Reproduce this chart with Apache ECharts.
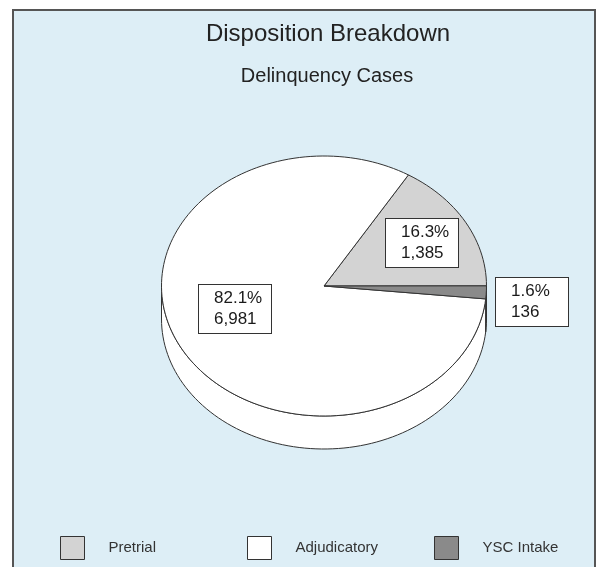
<!DOCTYPE html>
<html>
<head>
<meta charset="utf-8">
<script src="https://cdn.jsdelivr.net/npm/echarts@6/dist/echarts.min.js"></script>
<style>
html,body{margin:0;padding:0;background:#ffffff;}
#chart{width:600px;height:567px;}
</style>
</head>
<body>
<div id="chart"></div>
<script>
// chart data
var categories = ["Pretrial", "Adjudicatory", "YSC Intake"];
var caseCounts = [1385, 6981, 136];
// slices go clockwise in this order from the start angle
var sliceOrder = ["Pretrial", "YSC Intake", "Adjudicatory"];

var sliceColors = {"Pretrial": "#d3d3d3", "Adjudicatory": "#ffffff", "YSC Intake": "#8a8a8a"};
// label centre as a fraction of the radius along the mid angle (x, y)
var labelSpot = {"Pretrial": [0.69, 0.68], "Adjudicatory": [0.61, 0.39], "YSC Intake": [1.28, 2.5]};
// left edge of each legend entry
var legendLeft = [60, 247, 434];

var _pie = {cx: 324, cy: 286, rx: 162.5, ry: 130, depth: 33, startAngle: 58.7};
var _font = '"Liberation Sans", Arial, sans-serif';
var _line = "#333333";

var total = 0;
for (var i = 0; i < caseCounts.length; i++) total += caseCounts[i];

// sweep of each slice, in degrees, counter clockwise positive
var sliceAngles = {};
var a = _pie.startAngle;
for (var j = 0; j < sliceOrder.length; j++) {
	var nm = sliceOrder[j];
	var sweep = caseCounts[categories.indexOf(nm)] / total * 360;
	sliceAngles[nm] = {from: a, to: a - sweep};
	a -= sweep;
}

function pt(t, dy) {
	var r = t * Math.PI / 180;
	return [_pie.cx + _pie.rx * Math.cos(r), _pie.cy - _pie.ry * Math.sin(r) + (dy || 0)];
}

function arcPoints(a0, a1, dy) {
	var n = Math.max(2, Math.ceil(Math.abs(a0 - a1) / 2));
	var pts = [];
	for (var k = 0; k <= n; k++) pts.push(pt(a0 + (a1 - a0) * k / n, dy));
	return pts;
}

// parts of a slice that lie on the front (lower) half, where the side shows
function sidePieces(hi, lo) {
	var out = [];
	for (var k = -2; k <= 1; k++) {
		var s = Math.max(lo, -180 + 360 * k), e = Math.min(hi, 360 * k);
		if (e > s) out.push([e, s]);
	}
	return out;
}

function makeRender(name) {
	return function (params, api) {
		var value = api.value(0);
		var ang = sliceAngles[name];
		var color = sliceColors[name];
		var children = [];

		var pieces = sidePieces(ang.from, ang.to);
		for (var p = 0; p < pieces.length; p++) {
			var top = arcPoints(pieces[p][0], pieces[p][1], 0);
			var bottom = arcPoints(pieces[p][1], pieces[p][0], _pie.depth);
			children.push({
				type: "polygon",
				shape: {points: top.concat(bottom)},
				style: {fill: color, stroke: _line, lineWidth: 1}
			});
		}

		var face = [[_pie.cx, _pie.cy]].concat(arcPoints(ang.from, ang.to, 0));
		children.push({
			type: "polygon",
			shape: {points: face},
			style: {fill: color, stroke: _line, lineWidth: 1}
		});

		var mid = (ang.from + ang.to) / 2 * Math.PI / 180;
		var spot = labelSpot[name];
		var lx = _pie.cx + _pie.rx * Math.cos(mid) * spot[0];
		var ly = _pie.cy - _pie.ry * Math.sin(mid) * spot[1];
		children.push({
			type: "text",
			x: Math.round(lx - 36),
			y: Math.round(ly - 24),
			z2: 10,
			style: {
				text: (value / total * 100).toFixed(1) + "%\n" + value.toLocaleString("en-US"),
				font: "17px " + _font,
				fill: "#1a1a1a",
				align: "left",
				verticalAlign: "top",
				width: 48,
				lineHeight: 21,
				padding: [3, 9, 3, 15],
				backgroundColor: "#ffffff",
				borderColor: _line,
				borderWidth: 1
			}
		});
		return {type: "group", children: children};
	};
}

var series = [];
for (var s = 0; s < categories.length; s++) {
	series.push({
		type: "custom",
		name: categories[s],
		coordinateSystem: "none",
		itemStyle: {color: sliceColors[categories[s]]},
		data: [[caseCounts[s]]],
		renderItem: makeRender(categories[s])
	});
}

// one legend per entry so the entries sit at even steps
var legends = [];
for (var l = 0; l < categories.length; l++) {
	legends.push({
		data: [categories[l]],
		left: legendLeft[l],
		top: 536,
		padding: 0,
		icon: "rect",
		itemWidth: 24,
		itemHeight: 23,
		selectedMode: false,
		itemStyle: {borderColor: _line, borderWidth: 1},
		textStyle: {fontFamily: _font, fontSize: 15, color: "#333333", padding: [0, 0, 0, 19]}
	});
}

var chart = echarts.init(document.getElementById("chart"));
chart.setOption({
	animation: false,
	graphic: [
		{
			type: "rect",
			shape: {x: 13, y: 10, width: 582, height: 600},
			style: {fill: "#ddeef6", stroke: "#555555", lineWidth: 2},
			z: -10
		},
		{
			type: "text",
			x: 328, y: 34,
			style: {text: "Disposition Breakdown", font: "24px " + _font, fill: "#222222", align: "center", verticalAlign: "middle"}
		},
		{
			type: "text",
			x: 327, y: 76,
			style: {text: "Delinquency Cases", font: "20px " + _font, fill: "#222222", align: "center", verticalAlign: "middle"}
		}
	],
	legend: legends,
	series: series
});
</script>
</body>
</html>
